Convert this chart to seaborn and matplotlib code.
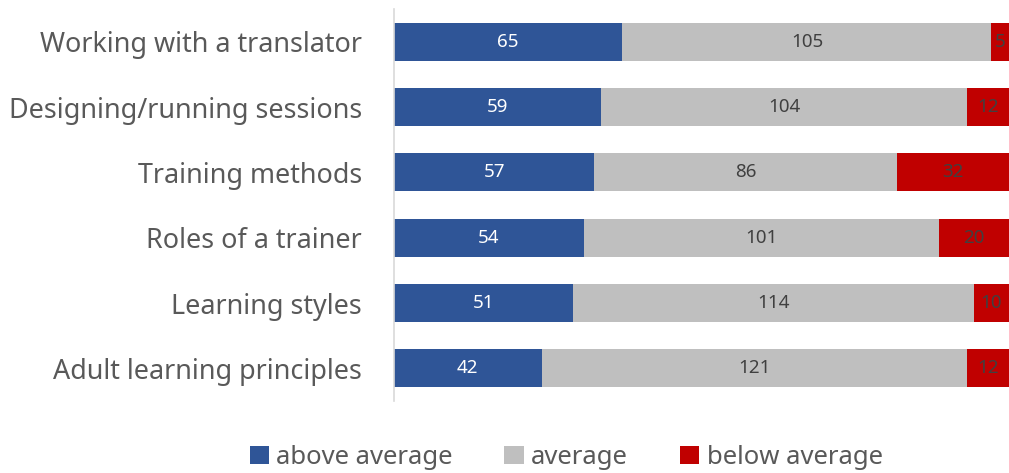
import matplotlib
matplotlib.use("Agg")
import matplotlib.pyplot as plt
import seaborn as sns
import numpy as np
import pandas as pd
from matplotlib.patches import Patch

categories = ["Working with a translator", "Designing/running sessions", "Training methods",
              "Roles of a trainer", "Learning styles", "Adult learning principles"]
above = [65, 59, 57, 54, 51, 42]
average = [105, 104, 86, 101, 114, 121]
below = [5, 12, 32, 20, 10, 12]
series_names = ["above average", "average", "below average"]
colors = ["#2F5597", "#BFBFBF", "#C00000"]
label_colors = ["white", "#404040", "#404040"]

sns.set_style("white")
plt.rcParams['font.family'] = ['Noto Sans', 'DejaVu Sans']

fig = plt.figure(figsize=(10.09, 4.73), dpi=100)
ax = fig.add_axes([0.3905, 0.152, 0.6095, 0.829])

a = np.array(above); m = np.array(average); b = np.array(below)
cum3 = a + m + b
cum2 = a + m
df = pd.DataFrame({"cat": categories, "c3": cum3, "c2": cum2, "c1": a})

for col, c in zip(["c3", "c2", "c1"], colors[::-1]):
    sns.barplot(data=df, y="cat", x=col, color=c, orient="h", width=0.58,
                saturation=1, ax=ax, linewidth=0)

starts = [np.zeros_like(a), a, cum2]
vals = [a, m, b]
for s, v, lc in zip(starts, vals, label_colors):
    for i in range(len(categories)):
        ax.text(s[i] + v[i] / 2, i, str(v[i]), ha="center", va="center",
                color=lc, fontsize=13.5, clip_on=False)

ax.set_xlim(0, 175)
ax.set_ylim(5.5, -0.5)
ax.set_xlabel("")
ax.set_ylabel("")
ax.set_xticks([])
for sp in ["top", "right", "bottom"]:
    ax.spines[sp].set_visible(False)
ax.spines["left"].set_color("#D9D9D9")
ax.spines["left"].set_linewidth(1.2)
ax.tick_params(axis="y", length=0, pad=23, labelsize=19.4, labelcolor="#595959")

handles = [Patch(facecolor=c, edgecolor="none") for c in colors]
fig.legend(handles, series_names, loc="center", bbox_to_anchor=(0.561, 0.033),
           ncol=3, frameon=False, fontsize=18.5, labelcolor="#595959",
           handlelength=0.75, handleheight=0.75, handletextpad=0.3, columnspacing=2.0)

fig.savefig("out.png", dpi=100)
